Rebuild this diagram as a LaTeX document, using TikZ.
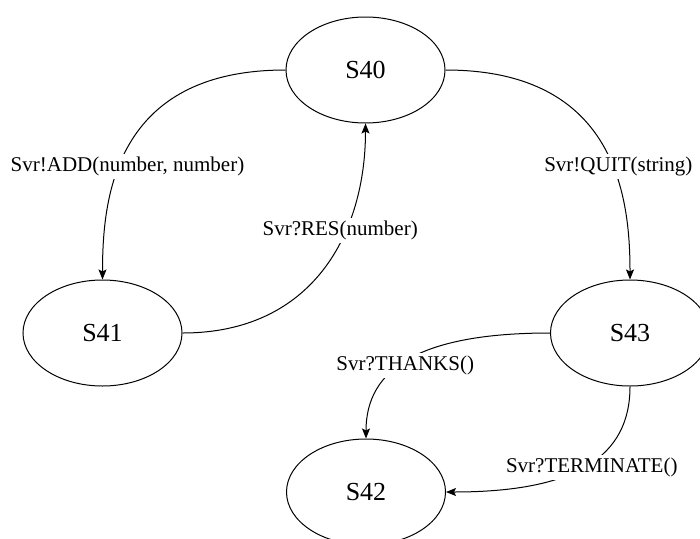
\documentclass[tikz,border=0pt]{standalone}
\usepackage{fontspec}
\setmainfont{Liberation Serif}
\usetikzlibrary{shapes.geometric,arrows.meta}

\tikzset{
  state/.style={ellipse, draw, line width=1pt, minimum width=159pt, minimum height=106pt,
                inner sep=0pt, font=\fontsize{26}{30}\selectfont},
  edge/.style={draw, line width=1pt, -{Stealth[length=10pt,width=8pt,inset=2pt]}},
  lbl/.style={fill=white, inner sep=3pt, font=\fontsize{21}{24}\selectfont}
}

\begin{document}
\begin{tikzpicture}[x=1pt,y=-1pt]
  \useasboundingbox (0,0) rectangle (700,538);

  % states
  \node[state] (s40) at (365.5,70)  {S40};
  \node[state] (s41) at (102.5,333) {S41};
  \node[state] (s43) at (630,333)   {S43};
  \node[state] (s42) at (366,492)   {S42};

  % transitions
  \draw[edge] (s40.west) .. controls +(-172,0) and +(0,-80) .. (s41.north)
    node[lbl, pos=.57, xshift=7pt, yshift=-3pt] {Svr!ADD(number, number)};
  \draw[edge] (s41.east) .. controls +(130,0) and +(0,110) .. (s40.south)
    node[lbl, pos=.66, xshift=-6pt, yshift=-2pt] {Svr?RES(number)};
  \draw[edge] (s40.east) .. controls +(172,0) and +(0,-80) .. (s43.north)
    node[lbl, pos=.57, xshift=7pt, yshift=-3pt] {Svr!QUIT(string)};
  \draw[edge] (s43.west) .. controls +(-130,0) and +(0,-70) .. (s42.north)
    node[lbl, pos=.5, xshift=-4pt, yshift=-6pt] {Svr?THANKS()};
  \draw[edge] (s43.south) .. controls +(0,70) and +(130,0) .. (s42.east)
    node[lbl, pos=.5, xshift=5pt, yshift=-2pt] {Svr?TERMINATE()};
\end{tikzpicture}
\end{document}
